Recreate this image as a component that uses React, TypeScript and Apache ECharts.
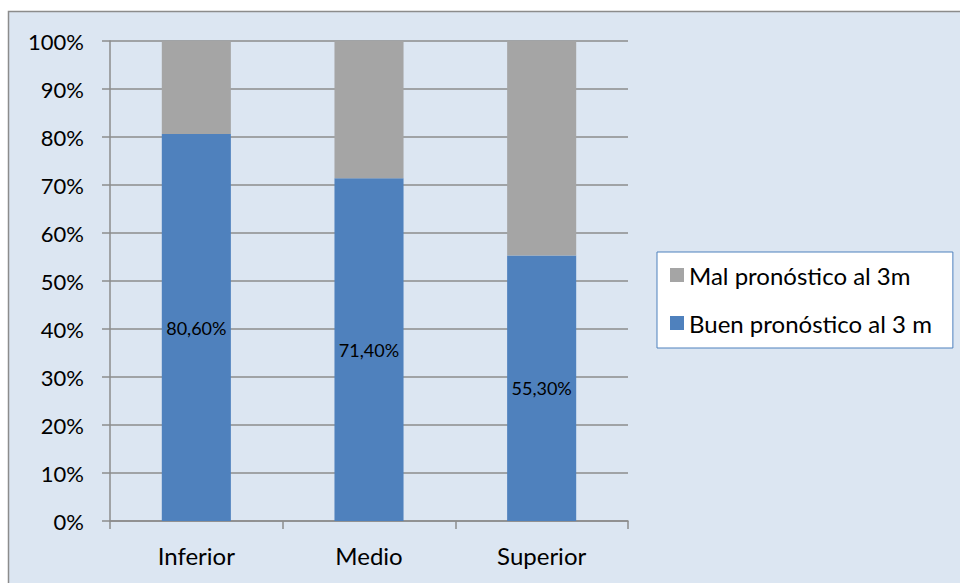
import React, { useEffect, useRef } from "react";
import * as echarts from "echarts";

// Niveles y porcentajes de pronóstico a los 3 meses
const categories = ["Inferior", "Medio", "Superior"];
const buenPronostico = [80.6, 71.4, 55.3];
const malPronostico = [19.4, 28.6, 44.7];
const yTicks = [0, 10, 20, 30, 40, 50, 60, 70, 80, 90, 100];

const FONT = "Lato, 'Open Sans', sans-serif";
const BLUE = "#4F81BD";
const GREY = "#A5A5A5";
const LINE = "#8C8C8C";

export default function App() {
  const ref = useRef<HTMLDivElement>(null);

  useEffect(() => {
    if (!ref.current) return;
    const chart = echarts.init(ref.current, undefined, { renderer: "svg" });
    chart.setOption({
      animation: false,
      backgroundColor: "#FFFFFF",
      textStyle: { fontFamily: FONT },
      graphic: [
        {
          type: "rect",
          z: -10,
          shape: { x: 8.5, y: 11.5, width: 960, height: 600 },
          style: { fill: "#DCE6F2", stroke: LINE, lineWidth: 1.5 },
        },
      ],
      grid: { left: 110, right: 332, top: 41, bottom: 62 },
      legend: {
        orient: "vertical",
        left: 657,
        top: 252,
        padding: [11, 21, 13, 13],
        itemGap: 24,
        itemWidth: 14,
        itemHeight: 14,
        backgroundColor: "#FFFFFF",
        borderColor: BLUE,
        borderWidth: 1,
        borderRadius: 0,
        icon: "rect",
        data: ["Mal pronóstico al 3m", "Buen pronóstico al 3 m"],
        textStyle: { fontFamily: FONT, fontSize: 24, color: "#000", lineHeight: 24 },
      },
      xAxis: {
        type: "category",
        data: categories,
        axisLine: { show: true, lineStyle: { color: LINE, width: 1.5 } },
        axisTick: { show: true, length: 8, alignWithLabel: false, lineStyle: { color: LINE, width: 1.5 } },
        axisLabel: { fontFamily: FONT, fontSize: 24, color: "#000", margin: 22 },
      },
      yAxis: {
        type: "value",
        min: yTicks[0],
        max: yTicks[yTicks.length - 1],
        interval: 10,
        axisLine: { show: true, lineStyle: { color: LINE, width: 1.5 } },
        axisTick: { show: true, length: 8, lineStyle: { color: LINE, width: 1.5 } },
        splitLine: { show: true, lineStyle: { color: LINE, width: 1.5 } },
        axisLabel: {
          fontFamily: FONT,
          fontSize: 22,
          color: "#000",
          margin: 26,
          formatter: "{value}%",
        },
      },
      series: [
        {
          name: "Buen pronóstico al 3 m",
          type: "bar",
          stack: "total",
          barWidth: "40%",
          data: buenPronostico,
          itemStyle: { color: BLUE },
          label: {
            show: true,
            position: "inside",
            fontFamily: FONT,
            fontSize: 18,
            color: "#000",
            formatter: (p: any) => p.value.toFixed(2).replace(".", ",") + "%",
          },
        },
        {
          name: "Mal pronóstico al 3m",
          type: "bar",
          stack: "total",
          barWidth: "40%",
          data: malPronostico,
          itemStyle: { color: GREY },
        },
      ],
    });
    return () => chart.dispose();
  }, []);

  return (
    <div
      ref={ref}
      style={{ position: "fixed", left: 0, top: 0, width: 960, height: 583 }}
    />
  );
}
